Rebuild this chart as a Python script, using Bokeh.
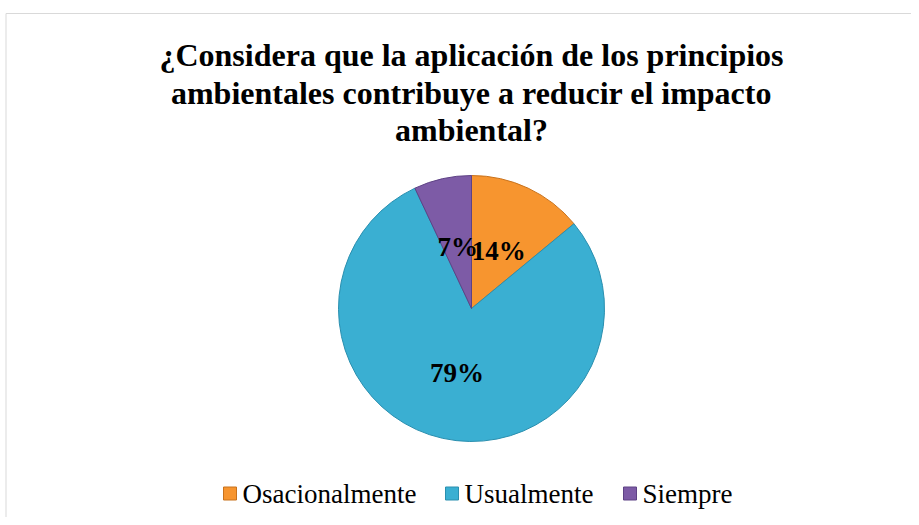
import math
from bokeh.plotting import figure
from bokeh.models import Range1d
from bokeh.core.properties import value
from bokeh.embed import file_html
from bokeh.resources import INLINE

categories = ["Osacionalmente", "Usualmente", "Siempre"]
percents = [14, 79, 7]
colors = ["#F7952F", "#3AAFD2", "#7D5BA6"]
edge_colors = ["#C8721C", "#2A8FAF", "#5E4285"]
title_lines = ["¿Considera que la aplicación de los principios",
               "ambientales contribuye a reducir el impacto",
               "ambiental?"]
label_texts = ["14%", "79%", "7%"]

W, H = 911, 517
p = figure(width=W, height=H, output_backend="svg", toolbar_location=None,
           x_range=Range1d(0, W), y_range=Range1d(0, H), min_border=0)
p.axis.visible = False
p.grid.visible = False
p.outline_line_color = None
p.background_fill_color = "white"
p.border_fill_color = "white"

# chart border
p.line([5.5, 5.5, W], [0, H - 13, H - 13], line_color="#D9D9D9", line_width=1)

cx, cy, r = 471, 209, 133
total = sum(percents)
starts, ends, mids = [], [], []
acc = 0.0
for v in percents:
    a0 = math.pi / 2 - 2 * math.pi * acc / total
    acc += v
    a1 = math.pi / 2 - 2 * math.pi * acc / total
    starts.append(a0)
    ends.append(a1)
    mids.append((a0 + a1) / 2)

for s, e, c, ec in zip(starts, ends, colors, edge_colors):
    p.wedge(x=cx, y=cy, radius=r, start_angle=e, end_angle=s,
            fill_color=c, line_color=ec, line_width=1)

label_radius = [0.48, 0.5, 0.47]
lx = [cx + f * r * math.cos(m) for f, m in zip(label_radius, mids)]
ly = [cy + f * r * math.sin(m) for f, m in zip(label_radius, mids)]
p.text(x=lx, y=ly, text=label_texts, text_font=value("Liberation Serif"),
       text_font_style="bold", text_font_size="27px", text_align="center",
       text_baseline="middle", text_color="black")

# title
ty = [463, 425, 388]
p.text(x=[cx] * 3, y=ty, text=title_lines, text_font=value("Liberation Serif"),
       text_font_style="bold", text_font_size="32px", text_align="center",
       text_baseline="middle", text_color="black")

# legend
leg_x = [223, 445, 623]
leg_y = 24
p.rect(x=[x + 6.5 for x in leg_x], y=[leg_y] * 3, width=13, height=13,
       fill_color=colors, line_color=edge_colors)
p.text(x=[x + 19 for x in leg_x], y=[leg_y] * 3, text=categories,
       text_font=value("Liberation Serif"), text_font_size="27px",
       text_align="left", text_baseline="middle", text_color="black")

open("out.html", "w").write(file_html(p, INLINE))
